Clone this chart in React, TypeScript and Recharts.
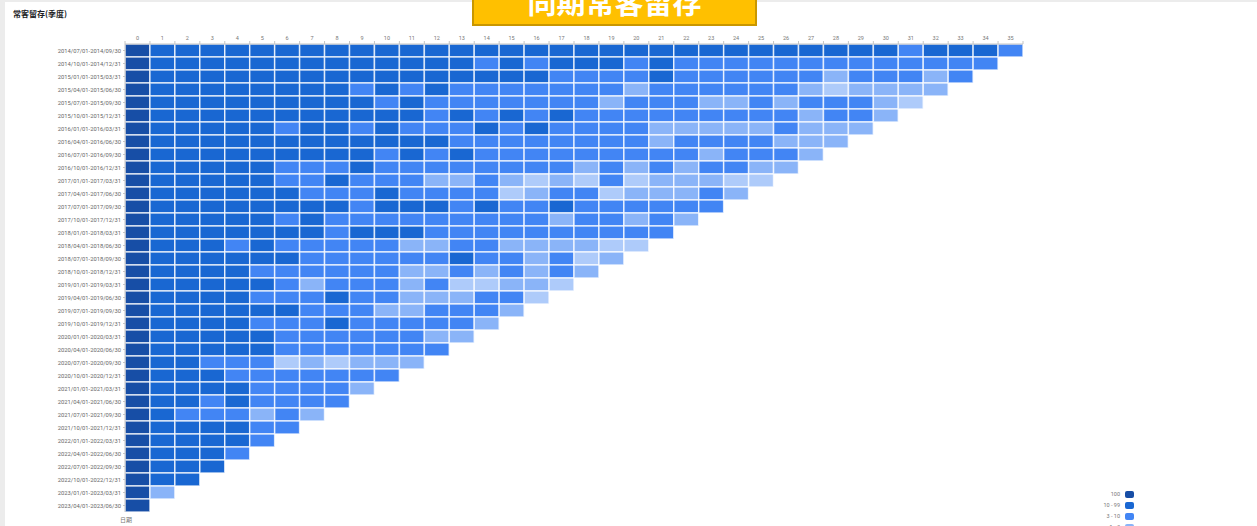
import React from "react";
import { BarChart, Bar, XAxis, YAxis, Cell } from "recharts";

const cohorts: string[] = [
  "2014/07/01-2014/09/30", "2014/10/01-2014/12/31", "2015/01/01-2015/03/31", "2015/04/01-2015/06/30",
  "2015/07/01-2015/09/30", "2015/10/01-2015/12/31", "2016/01/01-2016/03/31", "2016/04/01-2016/06/30",
  "2016/07/01-2016/09/30", "2016/10/01-2016/12/31", "2017/01/01-2017/03/31", "2017/04/01-2017/06/30",
  "2017/07/01-2017/09/30", "2017/10/01-2017/12/31", "2018/01/01-2018/03/31", "2018/04/01-2018/06/30",
  "2018/07/01-2018/09/30", "2018/10/01-2018/12/31", "2019/01/01-2019/03/31", "2019/04/01-2019/06/30",
  "2019/07/01-2019/09/30", "2019/10/01-2019/12/31", "2020/01/01-2020/03/31", "2020/04/01-2020/06/30",
  "2020/07/01-2020/09/30", "2020/10/01-2020/12/31", "2021/01/01-2021/03/31", "2021/04/01-2021/06/30",
  "2021/07/01-2021/09/30", "2021/10/01-2021/12/31", "2022/01/01-2022/03/31", "2022/04/01-2022/06/30",
  "2022/07/01-2022/09/30", "2022/10/01-2022/12/31", "2023/01/01-2023/03/31", "2023/04/01-2023/06/30",
];

const periods: number[] = [
  0, 1, 2, 3, 4, 5, 6, 7, 8, 9, 10, 11, 12, 13, 14, 15, 16, 17,
  18, 19, 20, 21, 22, 23, 24, 25, 26, 27, 28, 29, 30, 31, 32, 33, 34, 35,
];

// retention (%) per cohort, by period
const retention: number[][] = [
  [100, 30, 30, 30, 30, 30, 30, 30, 30, 30, 30, 30, 30, 30, 30, 30, 30, 30, 30, 30, 30, 30, 30, 30, 30, 30, 30, 30, 30, 30, 30, 5, 30, 30, 30, 5],
  [100, 30, 30, 30, 30, 30, 30, 30, 30, 30, 30, 30, 30, 30, 5, 30, 5, 30, 30, 30, 5, 30, 5, 5, 5, 5, 5, 5, 5, 5, 5, 5, 5, 5, 5],
  [100, 30, 30, 30, 30, 30, 30, 30, 30, 30, 30, 30, 30, 30, 30, 30, 30, 5, 5, 5, 5, 30, 5, 5, 5, 5, 5, 5, 2, 5, 5, 5, 2, 5],
  [100, 30, 30, 30, 30, 30, 30, 30, 30, 5, 30, 5, 30, 5, 5, 5, 5, 5, 5, 5, 2, 5, 5, 5, 5, 5, 5, 2, 0.5, 2, 2, 2, 2],
  [100, 30, 30, 30, 30, 30, 30, 30, 30, 30, 5, 30, 5, 5, 5, 5, 5, 5, 5, 2, 5, 5, 5, 2, 2, 5, 2, 5, 5, 5, 2, 0.5],
  [100, 30, 30, 30, 30, 30, 30, 30, 30, 30, 30, 30, 5, 30, 5, 30, 5, 30, 5, 5, 5, 5, 5, 5, 5, 5, 5, 2, 5, 5, 2],
  [100, 30, 30, 30, 30, 30, 5, 30, 30, 5, 30, 5, 5, 5, 30, 5, 30, 5, 5, 5, 5, 2, 2, 2, 2, 2, 5, 2, 2, 2],
  [100, 30, 30, 30, 30, 30, 30, 30, 30, 30, 30, 30, 30, 5, 5, 5, 5, 5, 5, 5, 5, 2, 5, 5, 5, 5, 2, 2, 2],
  [100, 30, 30, 30, 30, 30, 30, 30, 30, 30, 5, 30, 5, 30, 5, 5, 5, 5, 5, 5, 5, 5, 5, 2, 5, 5, 5, 2],
  [100, 30, 30, 30, 30, 30, 5, 5, 5, 30, 5, 5, 5, 5, 5, 5, 5, 5, 2, 5, 2, 5, 2, 5, 5, 2, 2],
  [100, 30, 30, 30, 30, 30, 5, 5, 30, 5, 5, 5, 2, 2, 5, 2, 0.5, 2, 0.5, 5, 0.5, 2, 2, 2, 0.5, 0.5],
  [100, 30, 30, 30, 30, 30, 30, 5, 5, 5, 30, 5, 5, 5, 5, 0.5, 2, 5, 5, 0.5, 2, 2, 2, 5, 2],
  [100, 30, 30, 30, 30, 30, 30, 30, 30, 5, 30, 30, 30, 5, 30, 5, 5, 30, 5, 5, 5, 5, 5, 5],
  [100, 30, 30, 30, 30, 30, 5, 30, 5, 5, 5, 5, 5, 5, 5, 5, 5, 2, 5, 5, 2, 5, 2],
  [100, 30, 30, 30, 30, 30, 30, 30, 5, 30, 30, 30, 5, 5, 5, 5, 5, 5, 5, 5, 5, 5],
  [100, 30, 30, 30, 5, 30, 5, 5, 5, 5, 5, 2, 2, 5, 5, 2, 2, 2, 2, 0.5, 0.5],
  [100, 30, 30, 30, 30, 30, 30, 5, 5, 5, 5, 5, 5, 30, 5, 5, 2, 5, 0.5, 2],
  [100, 30, 30, 30, 30, 5, 5, 5, 5, 5, 5, 2, 2, 5, 2, 5, 2, 5, 2],
  [100, 30, 30, 30, 30, 30, 5, 2, 5, 5, 5, 2, 5, 0.5, 0.5, 2, 2, 0.5],
  [100, 30, 30, 30, 30, 5, 5, 5, 30, 5, 5, 2, 2, 2, 5, 5, 0.5],
  [100, 30, 30, 30, 30, 30, 30, 5, 5, 5, 2, 2, 5, 5, 5, 2],
  [100, 30, 30, 30, 30, 5, 5, 5, 30, 5, 5, 5, 5, 5, 2],
  [100, 30, 30, 30, 30, 30, 5, 5, 5, 5, 5, 5, 2, 2],
  [100, 30, 30, 30, 30, 30, 5, 5, 5, 5, 5, 5, 5],
  [100, 30, 30, 5, 5, 5, 0.5, 2, 0.5, 2, 2, 2],
  [100, 30, 30, 30, 5, 5, 5, 5, 5, 5, 5],
  [100, 30, 30, 30, 30, 5, 5, 5, 5, 2],
  [100, 30, 30, 5, 30, 5, 5, 5, 5],
  [100, 30, 5, 5, 5, 2, 5, 2],
  [100, 30, 30, 30, 30, 5, 5],
  [100, 30, 30, 30, 30, 5],
  [100, 30, 30, 30, 5],
  [100, 30, 30, 30],
  [100, 30, 30],
  [100, 2],
  [100],
];

const binLabels: string[] = ["100", "10 - 99", "3 - 10", "1 - 3", "0 - 1"];
const binMins: number[] = [100, 10, 3, 1, 0];
const binColors: string[] = ["#174ea6", "#1967d2", "#4285f4", "#8ab4f8", "#aecbfa"];

const colorFor = (v: number | undefined): string => {
  if (v === undefined) return "transparent";
  for (let i = 0; i < binMins.length; i++) if (v >= binMins[i]) return binColors[i];
  return binColors[binColors.length - 1];
};

const chartData = cohorts.map((label, i) => {
  const row: Record<string, any> = { label };
  retention[i].forEach((_, j) => {
    row[`c${j}`] = 1;
  });
  return row;
});

const CHART_W = 1257;
const CHART_H = 526;
const PLOT_LEFT = 125;
const PLOT_RIGHT = 1023;
const PLOT_TOP = 44;
const PLOT_BOTTOM = 512;
const X_AXIS_H = 14;
const Y_AXIS_W = 120;
const HALF = (PLOT_RIGHT - PLOT_LEFT) / periods.length / 2;
const FONT = "Roboto, 'Noto Sans CJK SC', sans-serif";

const XTick = (props: any) => {
  const { x, y, payload } = props;
  if (payload.value >= periods.length) return null;
  return (
    <text x={x + HALF} y={y} textAnchor="middle" fontSize={5.5} fill="#777" fontFamily={FONT}>
      {periods[payload.value]}
    </text>
  );
};

const boundaryTicks = [...periods, periods.length];

export default function App() {
  return (
    <div
      style={{
        position: "absolute",
        left: 0,
        top: 0,
        width: CHART_W,
        height: CHART_H,
        overflow: "hidden",
        background: "#ececec",
        fontFamily: FONT,
      }}
    >
      <div
        style={{
          position: "absolute",
          left: 5,
          top: 2,
          width: CHART_W - 5,
          height: CHART_H - 2,
          background: "#fff",
        }}
      />
      <div style={{ position: "absolute", left: 0, top: 0 }}>
        <BarChart
          width={CHART_W}
          height={CHART_H}
          data={chartData}
          layout="vertical"
          barCategoryGap={0}
          barGap={0}
          margin={{
            top: PLOT_TOP - X_AXIS_H,
            right: CHART_W - PLOT_RIGHT,
            bottom: CHART_H - PLOT_BOTTOM,
            left: PLOT_LEFT - Y_AXIS_W,
          }}
        >
          <XAxis
            type="number"
            orientation="top"
            domain={[0, periods.length]}
            ticks={boundaryTicks}
            interval={0}
            height={X_AXIS_H}
            tickSize={3}
            tickMargin={1}
            tick={<XTick />}
            axisLine={{ stroke: "#c4c4c4" }}
            tickLine={{ stroke: "#c4c4c4" }}
          />
          <YAxis
            type="category"
            dataKey="label"
            width={Y_AXIS_W}
            interval={0}
            tickSize={2}
            tickMargin={2}
            axisLine={{ stroke: "#c4c4c4" }}
            tickLine={{ stroke: "#c4c4c4" }}
            tick={{ fontSize: 5.8, fill: "#666", fontFamily: FONT }}
          />
          {periods.map((p) => (
            <Bar
              key={p}
              dataKey={`c${p}`}
              stackId="cohort"
              isAnimationActive={false}
              stroke="rgba(255,255,255,0.75)"
              strokeWidth={1.5}
            >
              {chartData.map((_, i) => (
                <Cell key={i} fill={colorFor(retention[i][p])} />
              ))}
            </Bar>
          ))}
        </BarChart>
      </div>

      <div
        style={{
          position: "absolute",
          left: 13,
          top: 9,
          fontSize: 8,
          lineHeight: "10px",
          fontWeight: 700,
          color: "#202124",
          fontFamily: "'Noto Sans CJK SC', Roboto, sans-serif",
        }}
      >
        常客留存(季度)
      </div>

      <div
        style={{
          position: "absolute",
          left: 472,
          top: -12,
          width: 285,
          height: 38,
          boxSizing: "border-box",
          background: "#ffc000",
          border: "2px solid #c99700",
        }}
      >
        <div
          style={{
            position: "absolute",
            left: 0,
            right: 0,
            top: -3,
            textAlign: "center",
            color: "#fff",
            fontWeight: 700,
            fontSize: 29,
            lineHeight: "29px",
            letterSpacing: 0,
            fontFamily: "'Noto Sans CJK SC', sans-serif",
          }}
        >
          同期常客留存
        </div>
      </div>

      <div
        style={{
          position: "absolute",
          left: 120,
          top: 516,
          fontSize: 6,
          lineHeight: "8px",
          color: "#777",
          fontFamily: "'Noto Sans CJK SC', sans-serif",
        }}
      >
        日期
      </div>

      {binLabels.map((lab, i) => (
        <div
          key={lab}
          style={{
            position: "absolute",
            left: 1060,
            top: 491 + i * 11,
            width: 74,
            height: 7,
            display: "flex",
            alignItems: "center",
            justifyContent: "flex-end",
          }}
        >
          <span style={{ fontSize: 5.5, color: "#777", marginRight: 5, lineHeight: "7px" }}>{lab}</span>
          <span
            style={{
              display: "inline-block",
              width: 9,
              height: 7,
              borderRadius: 2,
              background: binColors[i],
            }}
          />
        </div>
      ))}
    </div>
  );
}
